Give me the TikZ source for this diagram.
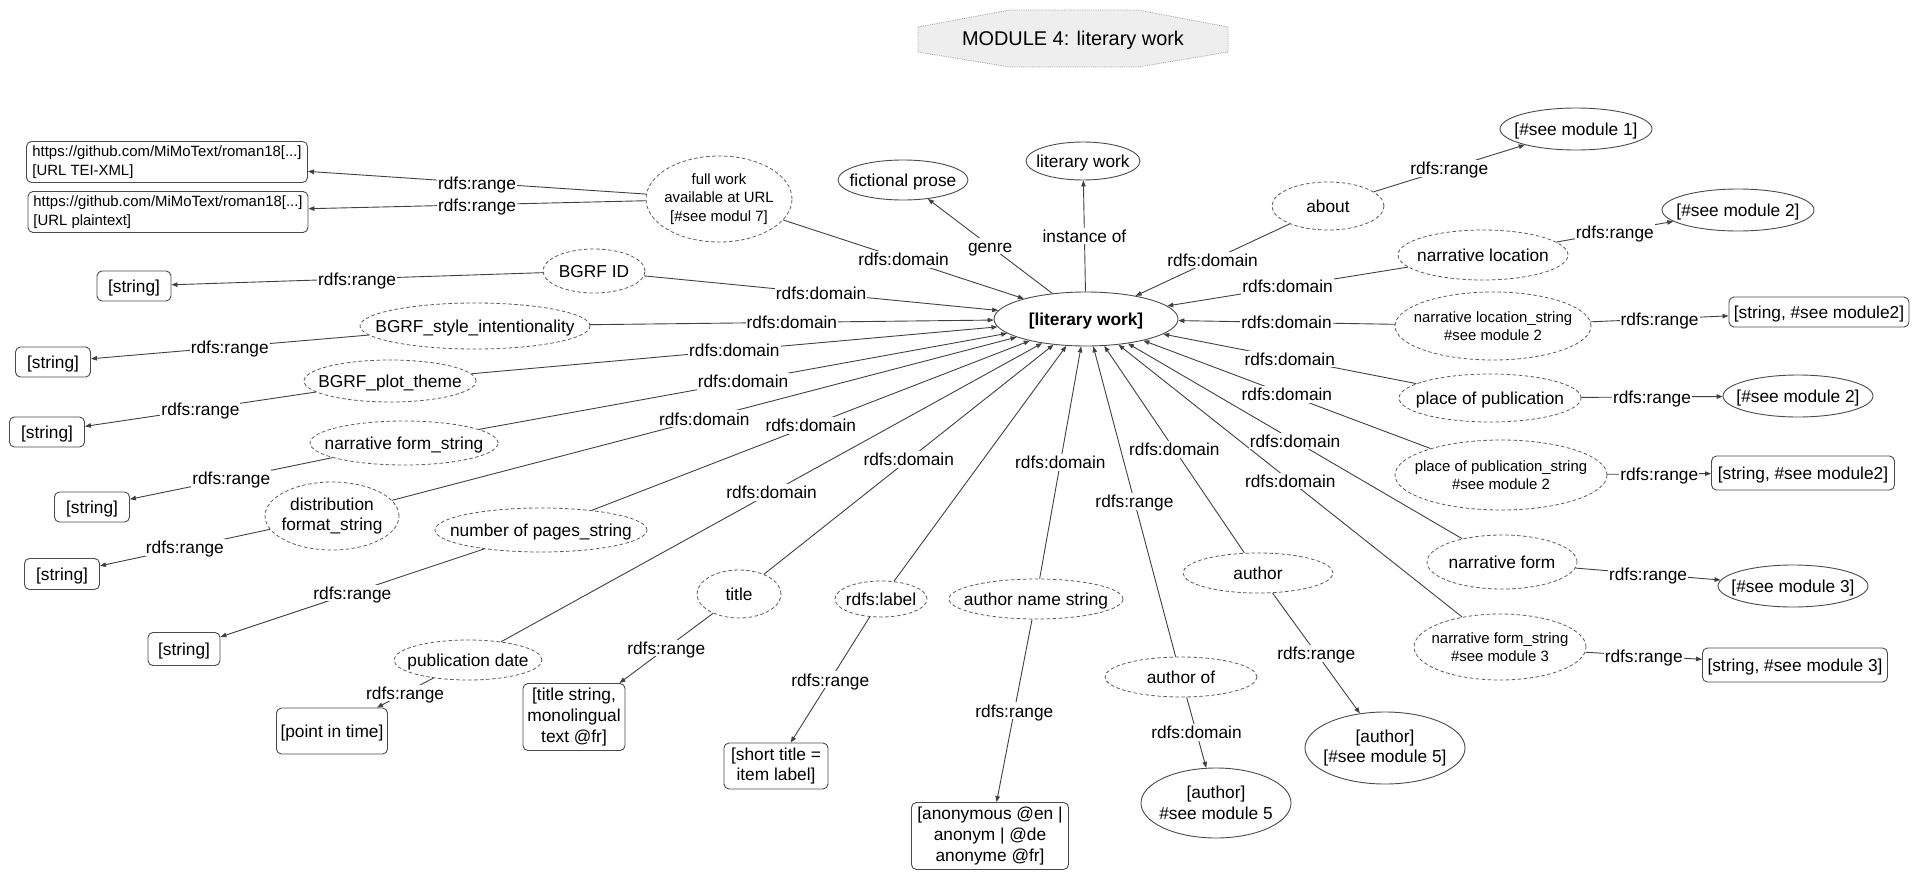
\documentclass[tikz,border=0pt]{standalone}
\usepackage{fontspec}
\setmainfont{Liberation Sans}
\usetikzlibrary{shapes.geometric,arrows.meta}
\definecolor{linec}{HTML}{404040}
\definecolor{propc}{HTML}{5A5A5A}
\definecolor{clsc}{HTML}{4A4A4A}
\definecolor{modfill}{HTML}{EEEEEE}
\definecolor{modline}{HTML}{A0A0A0}
\begin{document}
\begin{tikzpicture}[x=1pt,y=-1pt,
  fnorm/.style={font=\fontsize{17.3}{20.7}\selectfont},
  fsmall/.style={font=\fontsize{14.9}{18.3}\selectfont},
  one/.style={text height=12.6pt, text depth=0pt},
  sz/.style 2 args={minimum width=#1pt, minimum height=#2pt},
  prop/.style={ellipse, draw=propc, dash pattern=on 3.5pt off 2.5pt, line width=0.8pt, inner sep=-200pt, fnorm, align=center},
  cls/.style={ellipse, draw=clsc, line width=0.9pt, inner sep=-200pt, fnorm, align=center},
  box/.style={rectangle, rounded corners=5pt, draw=clsc, line width=0.9pt, inner sep=0pt, fnorm, align=center},
  edge/.style={draw=linec, line width=0.9pt, -{Triangle[length=6pt,width=4.5pt]}},
  lbl/.style={fill=white, inner xsep=1pt, inner ysep=2pt, fnorm, text=black, one}
]
\useasboundingbox (0,0) rectangle (1920,881);

% module title
\fill[modfill] (918,27) -- (1010,10) -- (1138,10) -- (1228,27) -- (1228,52) -- (1138,67) -- (1010,67) -- (918,52) -- cycle;
\draw[modline, densely dotted, line width=0.8pt] (918,27) -- (1010,10) -- (1138,10) -- (1228,27) -- (1228,52) -- (1138,67) -- (1010,67) -- (918,52) -- cycle;
\node[font=\fontsize{19.9}{24}\selectfont, inner sep=0pt, text height=14.5pt, text depth=0pt] (modtitle) at (1073,38) {MODULE 4: literary work};

% central
\node[cls, one, sz={184}{54}, font=\bfseries\fontsize{17.3}{20.7}\selectfont] (lw) at (1086,319) {[literary work]};

% top
\node[cls, one, sz={130}{40}] (fp) at (903,180) {fictional prose};
\node[cls, one, sz={114}{38}] (litw) at (1083,161) {literary work};

% right side
\node[prop, one, sz={112}{48}] (about) at (1328,206) {about};
\node[cls, one, sz={152}{42}] (m1) at (1576,129) {[\#see module 1]};
\node[prop, one, sz={170}{50}] (nloc) at (1483,255) {narrative location};
\node[cls, one, sz={152}{42}] (m2a) at (1738,210) {[\#see module 2]};
\node[prop, sz={196}{68}, fsmall] (nlocs) at (1493,326) {narrative location\_string\\\#see module 2};
\node[box, one, sz={180}{30}] (s2a) at (1819,312) {[string, \#see module2]};
\node[prop, one, sz={182}{48}] (pop) at (1490,398) {place of publication};
\node[cls, one, sz={150}{42}] (m2b) at (1798,396) {[\#see module 2]};
\node[prop, sz={212}{70}, fsmall] (pops) at (1501,475) {place of publication\_string\\\#see module 2};
\node[box, one, sz={183}{34}] (s2b) at (1803,473) {[string, \#see module2]};
\node[prop, one, sz={150}{54}] (nf) at (1502,562) {narrative form};
\node[cls, one, sz={150}{42}] (m3) at (1793,586) {[\#see module 3]};
\node[prop, sz={172}{66}, fsmall] (nfs) at (1500,647) {narrative form\_string\\\#see module 3};
\node[box, one, sz={185}{34}] (s3) at (1795,665) {[string, \#see module 3]};

% bottom
\node[prop, one, sz={150}{40}] (author) at (1258,573) {author};
\node[cls, sz={160}{72}] (a5a) at (1385,748) {[author]\\{[}\#see module 5]};
\node[prop, one, sz={152}{40}] (authof) at (1181,677) {author of};
\node[cls, sz={150}{70}] (a5b) at (1216,803) {[author]\\\#see module 5};
\node[prop, one, sz={174}{40}] (ans) at (1036,599) {author name string};
\node[box, sz={157}{67}] (anon) at (990,836) {[anonymous @en |\\anonym | @de\\anonyme @fr]};
\node[prop, one, sz={92}{36}] (rlab) at (881,599) {rdfs:label};
\node[box, sz={104}{46}] (short) at (776,766) {[short title =\\item label]};
\node[prop, one, sz={84}{48}] (title) at (739,594) {title};
\node[box, sz={102}{67}] (tstr) at (574,717) {[title string,\\monolingual\\text @fr]};
\node[prop, one, sz={148}{40}] (pdate) at (468,660) {publication date};
\node[box, one, sz={111}{46}] (pit) at (332,731) {[point in time]};

% left side
\node[prop, one, sz={212}{44}] (nop) at (541,530) {number of pages\_string};
\node[box, one, sz={72}{33}] (s6) at (184,649) {[string]};
\node[prop, sz={134}{68}] (dist) at (332,516) {distribution\\format\_string};
\node[box, one, sz={75}{31}] (s5) at (62,574) {[string]};
\node[prop, one, sz={188}{44}] (nfl) at (404,443) {narrative form\_string};
\node[box, one, sz={75}{30}] (s4) at (92,507) {[string]};
\node[prop, one, sz={172}{42}] (plot) at (390,381) {BGRF\_plot\_theme};
\node[box, one, sz={75}{30}] (s3l) at (47,432) {[string]};
\node[prop, one, sz={230}{46}] (style) at (475,326) {BGRF\_style\_intentionality};
\node[box, one, sz={75}{30}] (s2) at (53,362) {[string]};
\node[prop, one, sz={102}{44}] (bid) at (594,271) {BGRF ID};
\node[box, one, sz={74}{30}] (s1) at (134,286) {[string]};
\node[prop, sz={146}{86}, fsmall] (full) at (719,199) {full work\\available at URL\\{[}\#see modul 7]};
\node[box, sz={281}{41}, fsmall, align=left] (u1) at (167,162) {https://github.com/MiMoText/roman18[...]\\{[}URL TEI-XML]};
\node[box, sz={280}{41}, fsmall, align=left] (u2) at (168,212) {https://github.com/MiMoText/roman18[...]\\{[}URL plaintext]};

% spokes into the central node
\draw[edge] (full) -- node[lbl]{rdfs:domain} (lw);
\draw[edge] (bid) -- node[lbl]{rdfs:domain} (lw);
\draw[edge] (style) -- node[lbl]{rdfs:domain} (lw);
\draw[edge] (plot) -- node[lbl]{rdfs:domain} (lw);
\draw[edge] (nfl) -- node[lbl]{rdfs:domain} (lw);
\draw[edge] (dist) -- node[lbl]{rdfs:domain} (lw);
\draw[edge] (nop) -- node[lbl]{rdfs:domain} (lw);
\draw[edge] (pdate) -- node[lbl]{rdfs:domain} (lw);
\draw[edge] (title) -- node[lbl]{rdfs:domain} (lw);
\draw[edge] (rlab) -- (lw);
\draw[edge] (ans) -- node[lbl]{rdfs:domain} (lw);
\draw[edge] (authof) -- node[lbl]{rdfs:range} (lw);
\draw[edge] (author) -- node[lbl]{rdfs:domain} (lw);
\draw[edge] (nfs) -- node[lbl]{rdfs:domain} (lw);
\draw[edge] (nf) -- node[lbl]{rdfs:domain} (lw);
\draw[edge] (pops) -- node[lbl]{rdfs:domain} (lw);
\draw[edge] (pop) -- node[lbl]{rdfs:domain} (lw);
\draw[edge] (nlocs) -- node[lbl]{rdfs:domain} (lw);
\draw[edge] (nloc) -- node[lbl]{rdfs:domain} (lw);
\draw[edge] (about) -- node[lbl]{rdfs:domain} (lw);

% from the central node
\draw[edge] (lw) -- node[lbl]{genre} (fp);
\draw[edge] (lw) -- node[lbl]{instance of} (litw);

% ranges
\draw[edge] (full) -- node[lbl]{rdfs:range} (u1);
\draw[edge] (full) -- node[lbl]{rdfs:range} (u2);
\draw[edge] (bid) -- node[lbl]{rdfs:range} (s1);
\draw[edge] (style) -- node[lbl]{rdfs:range} (s2);
\draw[edge] (plot) -- node[lbl]{rdfs:range} (s3l);
\draw[edge] (nfl) -- node[lbl]{rdfs:range} (s4);
\draw[edge] (dist) -- node[lbl]{rdfs:range} (s5);
\draw[edge] (nop) -- node[lbl]{rdfs:range} (s6);
\draw[edge] (pdate) -- node[lbl]{rdfs:range} (pit);
\draw[edge] (title) -- node[lbl]{rdfs:range} (tstr);
\draw[edge] (rlab) -- node[lbl]{rdfs:range} (short);
\draw[edge] (ans) -- node[lbl]{rdfs:range} (anon);
\draw[edge] (author) -- node[lbl]{rdfs:range} (a5a);
\draw[edge] (authof) -- node[lbl]{rdfs:domain} (a5b);
\draw[edge] (about) -- node[lbl]{rdfs:range} (m1);
\draw[edge] (nloc) -- node[lbl]{rdfs:range} (m2a);
\draw[edge] (nlocs) -- node[lbl]{rdfs:range} (s2a);
\draw[edge] (pop) -- node[lbl]{rdfs:range} (m2b);
\draw[edge] (pops) -- node[lbl]{rdfs:range} (s2b);
\draw[edge] (nf) -- node[lbl]{rdfs:range} (m3);
\draw[edge] (nfs) -- node[lbl]{rdfs:range} (s3);
\end{tikzpicture}
\end{document}
